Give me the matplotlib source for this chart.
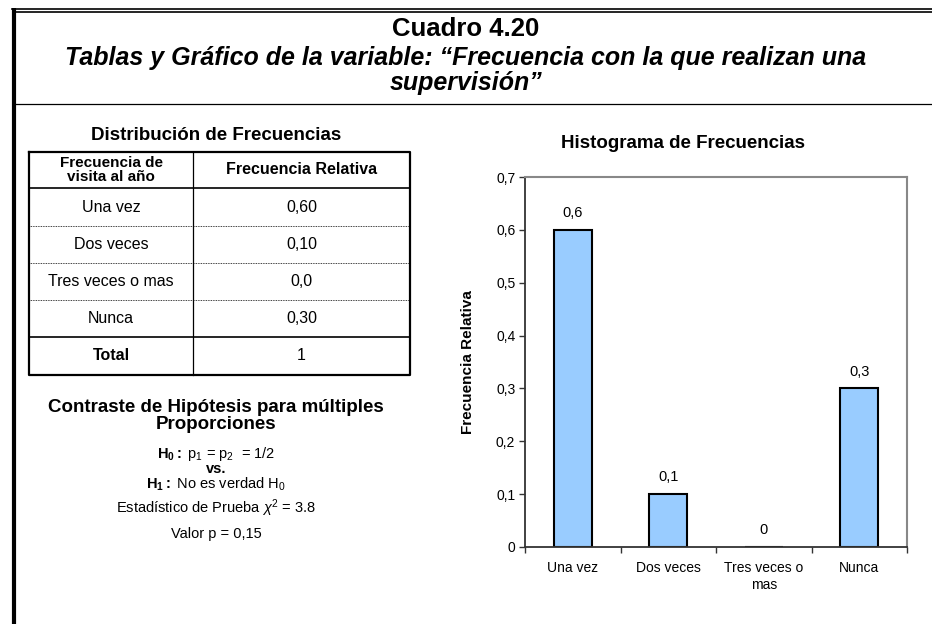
import matplotlib
matplotlib.use('Agg')
import matplotlib.pyplot as plt
import numpy as np

# datos del cuadro
categorias = ['Una vez', 'Dos veces', 'Tres veces o\nmas', 'Nunca']
frecuencia_relativa = [0.6, 0.1, 0.0, 0.3]
etiquetas_barras = ['0,6', '0,1', '0', '0,3']

filas_tabla = ['Una vez', 'Dos veces', 'Tres veces o mas', 'Nunca']
valores_tabla = ['0,60', '0,10', '0,0', '0,30']
total_tabla = '1'

ticks_y = [0, 0.1, 0.2, 0.3, 0.4, 0.5, 0.6, 0.7]
ticks_y_txt = ['0', '0,1', '0,2', '0,3', '0,4', '0,5', '0,6', '0,7']

plt.rcParams['font.family'] = ['Liberation Sans', 'DejaVu Sans']
plt.rcParams['mathtext.fontset'] = 'custom'
plt.rcParams['mathtext.rm'] = 'Liberation Sans'
plt.rcParams['mathtext.bf'] = 'Liberation Sans:bold'
plt.rcParams['mathtext.it'] = 'Liberation Sans:italic'

W, H = 932, 624
fig = plt.figure(figsize=(W / 100, H / 100), dpi=100)
fig.patch.set_facecolor('white')

# capa de fondo en pixeles para el marco, la tabla y los textos
ax0 = fig.add_axes([0, 0, 1, 1])
ax0.set_xlim(0, W)
ax0.set_ylim(H, 0)
ax0.axis('off')

# marco
ax0.plot([14, 14], [8, H], color='black', lw=3.0, solid_capstyle='butt')
ax0.plot([12, W], [8.5, 8.5], color='black', lw=1.2)
ax0.plot([16, W], [11.8, 11.8], color='black', lw=1.2)
ax0.plot([16, W], [104, 104], color='black', lw=0.9)

# encabezado
ax0.text(466, 36, 'Cuadro 4.20', ha='center', va='baseline', fontsize=18.5, fontweight='bold')
ax0.text(466, 65, 'Tablas y Gráfico de la variable: “Frecuencia con la que realizan una',
         ha='center', va='baseline', fontsize=18, fontweight='bold', style='italic')
ax0.text(466, 90, 'supervisión”', ha='center', va='baseline', fontsize=18,
         fontweight='bold', style='italic')

# tabla de distribucion
ax0.text(216, 135, 'Distribución de Frecuencias', ha='center', va='center',
         fontsize=13.5, fontweight='bold')
x0, xm, x1 = 29, 193, 410
ys = [152, 188, 226, 263, 300, 337, 375]
ax0.plot([x0, x1, x1, x0, x0], [ys[0], ys[0], ys[-1], ys[-1], ys[0]], color='black', lw=1.6)
ax0.plot([xm, xm], [ys[0], ys[-1]], color='black', lw=0.9)
ax0.plot([x0, x1], [ys[1], ys[1]], color='black', lw=1.2)
for y in ys[2:5]:
    ax0.plot([x0, x1], [y, y], color='black', lw=0.6, ls=(0, (1, 1)))
ax0.plot([x0, x1], [ys[5], ys[5]], color='black', lw=1.2)

ax0.text((x0 + xm) / 2, (ys[0] + ys[1]) / 2, 'Frecuencia de\nvisita al año', ha='center',
         va='center', fontsize=11, fontweight='bold', linespacing=1.0)
ax0.text((xm + x1) / 2, (ys[0] + ys[1]) / 2, 'Frecuencia Relativa', ha='center',
         va='center', fontsize=11.5, fontweight='bold')
for i, (f, v) in enumerate(zip(filas_tabla, valores_tabla)):
    yc = (ys[i + 1] + ys[i + 2]) / 2
    ax0.text((x0 + xm) / 2, yc, f, ha='center', va='center', fontsize=11.5)
    ax0.text((xm + x1) / 2, yc, v, ha='center', va='center', fontsize=11.5)
yc = (ys[5] + ys[6]) / 2
ax0.text((x0 + xm) / 2, yc, 'Total', ha='center', va='center', fontsize=11.5, fontweight='bold')
ax0.text((xm + x1) / 2, yc, total_tabla, ha='center', va='center', fontsize=11.5)

# contraste de hipotesis
ax0.text(216, 416, 'Contraste de Hipótesis para múltiples\nProporciones', ha='center',
         va='center', fontsize=13.5, fontweight='bold', linespacing=1.05)
ax0.text(216, 454, r'$\mathbf{H_0:}$ p$_1$ = p$_2$  = 1/2', ha='center', va='center', fontsize=10.5)
ax0.text(216, 469, 'vs.', ha='center', va='center', fontsize=10.5, fontweight='bold')
ax0.text(216, 484, r'$\mathbf{H_1:}$ No es verdad H$_0$', ha='center', va='center', fontsize=10.5)
ax0.text(216, 508, r'Estadístico de Prueba $\chi^{2}$ = 3.8', ha='center', va='center', fontsize=10.5)
ax0.text(216, 534, 'Valor p = 0,15', ha='center', va='center', fontsize=10.5)

# histograma
ax = fig.add_axes([525 / W, 1 - 547 / H, (907 - 525) / W, (547 - 177) / H])
x = np.arange(len(categorias))
barras = ax.bar(x, frecuencia_relativa, width=0.4, color='#99CCFF', edgecolor='black', lw=1.5)
for xi, v, t in zip(x, frecuencia_relativa, etiquetas_barras):
    ax.annotate(t, (xi, v), xytext=(0, 7), textcoords='offset points', ha='center',
                va='bottom', fontsize=10.5)
ax.set_xlim(-0.5, len(categorias) - 0.5)
ax.set_ylim(0, 0.7)
ax.set_yticks(ticks_y)
ax.set_yticklabels(ticks_y_txt, fontsize=10)
ax.set_xticks(x)
ax.set_xticklabels(categorias, fontsize=10, linespacing=1.3)
ax.set_xticks(np.arange(len(categorias) + 1) - 0.5, minor=True)
ax.tick_params(axis='x', which='major', length=0, pad=10)
ax.tick_params(axis='x', which='minor', length=4, width=1, color='#333333')
ax.tick_params(axis='y', length=4, width=1, color='#333333', pad=3)
for s in ['left', 'bottom']:
    ax.spines[s].set_color('#333333')
    ax.spines[s].set_linewidth(1.3)
for s in ['top', 'right']:
    ax.spines[s].set_color('#888888')
    ax.spines[s].set_linewidth(1.5)
ax.set_ylabel('Frecuencia Relativa', fontsize=11, fontweight='bold')
ax.yaxis.set_label_coords(-0.131, 0.5)
fig.text(683 / W, 1 - 143 / H, 'Histograma de Frecuencias', ha='center', va='center',
         fontsize=13.5, fontweight='bold')

fig.savefig('out.png', dpi=100)
